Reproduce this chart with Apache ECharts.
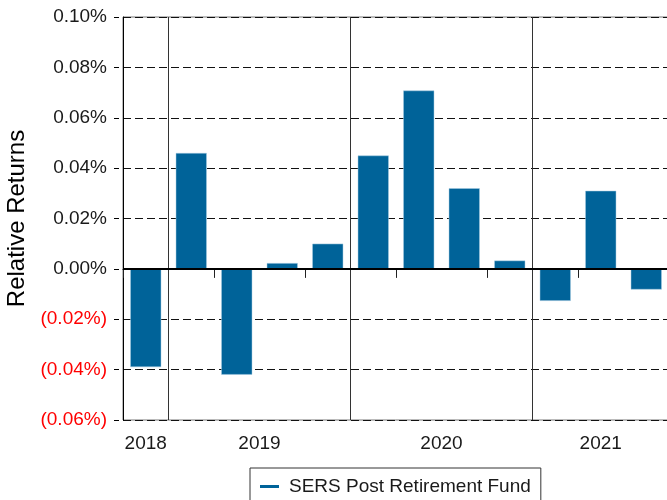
<!DOCTYPE html>
<html>
<head>
<meta charset="utf-8">
<script src="https://cdn.jsdelivr.net/npm/echarts@6/dist/echarts.min.js"></script>
<style>
  html, body { margin: 0; padding: 0; background: #fff; }
  #chart { width: 667px; height: 500px; }
</style>
</head>
<body>
<div id="chart"></div>
<script>
// Quarterly relative returns (in percent) of the fund
const quarters = ['2018 Q4',
  '2019 Q1', '2019 Q2', '2019 Q3', '2019 Q4',
  '2020 Q1', '2020 Q2', '2020 Q3', '2020 Q4',
  '2021 Q1', '2021 Q2', '2021 Q3'];
const relativeReturns = [-0.039,
  0.046, -0.042, 0.0023, 0.0100,
  0.045, 0.0708, 0.032, 0.0033,
  -0.0127, 0.031, -0.0082];
const seriesName = 'SERS Post Retirement Fund';
const yMin = -0.06, yMax = 0.10, yStep = 0.02;

const FONT = 'Liberation Sans, Arial, sans-serif';

// Year groups derived from the quarter labels: first/last index of each year
const years = [];
quarters.forEach((q, i) => {
  const y = q.slice(0, 4);
  const last = years[years.length - 1];
  if (last && last.year === y) last.end = i;
  else years.push({ year: y, start: i, end: i });
});
// Centre of each year group on a 0..N scale (category boundaries are integers)
const yearCentres = {};
years.forEach(g => { yearCentres[((g.start + g.end + 1) / 2).toFixed(1)] = g.year; });
// Boundaries where a new year starts
const yearStarts = years.slice(1).map(g => g.start);

function fmtPct(v) {
  const n = Number(v);
  if (n < -1e-9) return '(' + (-n).toFixed(2) + '%)';
  return Math.abs(n).toFixed(2) + '%';
}

const chart = echarts.init(document.getElementById('chart'), null, { renderer: 'canvas' });
chart.setOption({
  animation: false,
  backgroundColor: '#fff',
  textStyle: { fontFamily: FONT },
  grid: {
    left: 123, top: 17, width: 546, height: 403,
    outerBoundsMode: 'none',
    containLabel: false,
    show: true, borderColor: '#777', borderWidth: 1, backgroundColor: 'transparent'
  },
  legend: {
    data: [seriesName],
    left: 250, top: 468,
    padding: [9, 10, 9, 10],
    borderColor: '#333', borderWidth: 1,
    icon: 'rect', itemWidth: 19, itemHeight: 3,
    itemStyle: { color: '#006399', borderWidth: 0 },
    textStyle: { fontSize: 19, color: '#1a1a1a', fontFamily: FONT, padding: [0, 0, 0, 5] }
  },
  xAxis: [
    {
      type: 'category',
      position: 'bottom',
      data: quarters,
      boundaryGap: true,
      axisLine: { show: true, lineStyle: { color: '#000', width: 1 } },
      axisTick: { show: true, length: 9, alignWithLabel: false, lineStyle: { color: '#222', width: 1 } },
      axisLabel: { show: false },
      splitLine: {
        show: true,
        interval: (idx) => yearStarts.indexOf(idx) !== -1,
        lineStyle: { color: '#333', width: 1, type: 'solid' }
      }
    },
    {
      type: 'value',
      position: 'bottom',
      min: 0, max: quarters.length, interval: 0.5,
      axisLine: { show: false },
      axisTick: { show: false },
      splitLine: { show: false },
      axisLabel: {
        show: true, margin: 14, fontSize: 19, color: '#1a1a1a', fontFamily: FONT,
        formatter: (v) => yearCentres[Number(v).toFixed(1)] || ''
      }
    }
  ],
  yAxis: {
    type: 'value',
    min: yMin, max: yMax, interval: yStep,
    name: 'Relative Returns',
    nameLocation: 'middle',
    nameGap: 90,
    nameTextStyle: { fontSize: 24, color: '#000', fontFamily: FONT },
    axisLine: { show: true, lineStyle: { color: '#000', width: 1 } },
    axisTick: { show: true, length: 9, lineStyle: { color: '#000', width: 1, type: [5, 4], dashOffset: 5 } },
    axisLabel: {
      margin: 16, fontSize: 19, fontFamily: FONT,
      formatter: fmtPct,
      color: (v) => (Number(v) < -1e-9 ? '#ff0000' : '#1a1a1a')
    },
    splitLine: { show: true, lineStyle: { color: '#111', width: 1, type: [8, 4] } }
  },
  series: [
    {
      name: seriesName,
      type: 'bar',
      xAxisIndex: 0,
      data: relativeReturns,
      barWidth: 31,
      itemStyle: { color: '#006399', borderColor: '#a9cde2', borderWidth: 0.5 },
      markLine: {
        silent: true,
        symbol: ['none', 'none'],
        label: { show: false },
        lineStyle: { color: '#000', width: 2, type: 'solid' },
        data: [{ yAxis: 0 }]
      }
    }
  ]
});
</script>
</body>
</html>
